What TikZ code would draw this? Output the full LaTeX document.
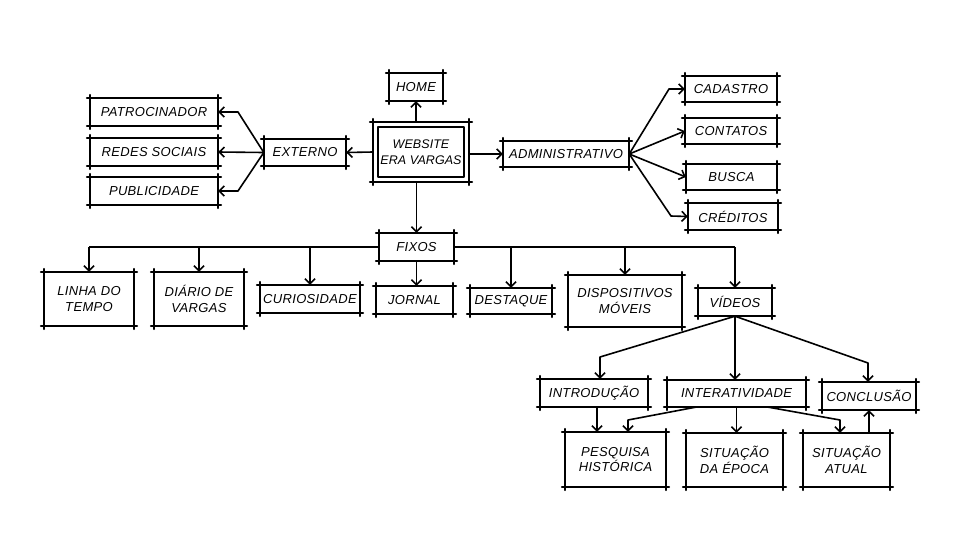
\documentclass[tikz,border=0pt]{standalone}
\usepackage{fontspec}
\setmainfont{Liberation Sans}
\newfontfamily\lettering[LetterSpace=2.5]{Liberation Sans}
\newfontfamily\letteringtight[LetterSpace=0.5]{Liberation Sans}
\usetikzlibrary{arrows.meta,calc}
\tikzset{
  box/.style={inner sep=0pt, font=\lettering\itshape\fontsize{13}{15.5}\selectfont, align=center},
  edge/.style={line width=1.8pt, line cap=round},
  ln/.style={line width=1.6pt, line join=round},
  conn/.style={ln, -{Straight Barb[length=5pt,width=10pt,line width=1.6pt]}},
}
\newcommand\skbox[1]{%
  \draw[edge] ([xshift=-3pt]#1.north west) -- ([xshift=3pt]#1.north east);
  \draw[edge] ([xshift=-3pt]#1.south west) -- ([xshift=3pt]#1.south east);
  \draw[edge] ([yshift=3pt]#1.north west) -- ([yshift=-3pt]#1.south west);
  \draw[edge] ([yshift=3pt]#1.north east) -- ([yshift=-3pt]#1.south east);
}
\begin{document}
\begin{tikzpicture}[x=1pt,y=-1pt]
\useasboundingbox[fill=white] (0,0) rectangle (976,555);
% nodes
\node[box, minimum width=54pt, minimum height=28pt] (home) at (416,87) {HOME};
\node[box, minimum width=96pt, minimum height=60pt, font=\letteringtight\itshape\fontsize{12.5}{15.5}\selectfont] (web) at (421,152) {WEBSITE\\ERA VARGAS};
\node[box, minimum width=82pt, minimum height=27pt] (ext) at (305,152.5) {EXTERNO};
\node[box, minimum width=128pt, minimum height=28pt] (pat) at (154,112) {PATROCINADOR};
\node[box, minimum width=128pt, minimum height=28pt] (red) at (154,152) {REDES SOCIAIS};
\node[box, minimum width=128pt, minimum height=28pt] (pub) at (154,191) {PUBLICIDADE};
\node[box, minimum width=126pt, minimum height=26pt] (adm) at (566,154) {ADMINISTRATIVO};
\node[box, minimum width=92pt, minimum height=26pt] (cad) at (731,89) {CADASTRO};
\node[box, minimum width=92pt, minimum height=26pt] (con) at (731,131) {CONTATOS};
\node[box, minimum width=91pt, minimum height=26pt] (bus) at (731.5,177) {BUSCA};
\node[box, minimum width=90pt, minimum height=27pt] (cre) at (733,216.5) {CRÉDITOS};
\node[box, minimum width=75pt, minimum height=28pt] (fix) at (416.5,247) {FIXOS};
\node[box, minimum width=90pt, minimum height=54pt] (lin) at (89,299) {LINHA DO\\TEMPO};
\node[box, minimum width=90pt, minimum height=54pt] (dia) at (199,299) {DIÁRIO DE\\VARGAS};
\node[box, minimum width=100pt, minimum height=28pt] (cur) at (310,299) {CURIOSIDADE};
\node[box, minimum width=77pt, minimum height=28pt] (jor) at (414.5,300) {JORNAL};
\node[box, minimum width=82pt, minimum height=26pt] (des) at (511,301) {DESTAQUE};
\node[box, minimum width=114pt, minimum height=52pt] (dis) at (625,301) {DISPOSITIVOS\\MÓVEIS};
\node[box, minimum width=74pt, minimum height=28pt] (vid) at (735,302) {VÍDEOS};
\node[box, minimum width=108pt, minimum height=28pt] (intro) at (594,393) {INTRODUÇÃO};
\node[box, minimum width=139pt, minimum height=27pt] (int) at (736.5,393.5) {INTERATIVIDADE};
\node[box, minimum width=94pt, minimum height=28pt] (conc) at (869,396) {CONCLUSÃO};
\node[box, minimum width=101pt, minimum height=55pt] (pes) at (615.5,459.5) {PESQUISA\\HISTÓRICA};
\node[box, minimum width=97pt, minimum height=54pt] (sde) at (734.5,460) {SITUAÇÃO\\DA ÉPOCA};
\node[box, minimum width=87pt, minimum height=54pt] (sat) at (846.5,460) {SITUAÇÃO\\ATUAL};
% sketchy box outlines
\foreach \n in {home,web,ext,pat,red,pub,adm,cad,con,bus,cre,fix,lin,dia,cur,jor,des,dis,vid,intro,int,conc,pes,sde,sat} {\skbox{\n}}
\draw[ln] ([shift={(5pt,-5pt)}]web.north west) rectangle ([shift={(-5pt,5pt)}]web.south east);
% coordinates for bends
\coordinate (e1) at (238,112);
\coordinate (e2) at (238,191);
\coordinate (a1) at (669,89);
\coordinate (a2) at (671,216);
\coordinate (v1) at (600,357);
\coordinate (v3) at (868,363);
\coordinate (i0) at ($(intro.south)+(3,0)$);
\coordinate (i1s) at ($(int.south)+(-41,0)$);
\coordinate (i1) at (628,420);
\coordinate (i3s) at ($(int.south)+(32,0)$);
\coordinate (i3) at (840,420);
% connectors from website
\draw[conn] (home.south |- web.north) -- (home.south);
\draw[conn] (web.west) -- (ext.east);
\draw[conn] (web.east |- adm.west) -- (adm.west);
\draw[conn] (fix.north |- web.south) -- (fix.north);
% externo
\draw[conn] (ext.west) -- (e1) -- (pat.east);
\draw[conn] (ext.west) -- (red.east);
\draw[conn] (ext.west) -- (e2) -- (pub.east);
% administrativo
\draw[conn] (adm.east) -- (a1) -- (cad.west);
\draw[conn] (adm.east) -- (con.west);
\draw[conn] (adm.east) -- (bus.west);
\draw[conn] (adm.east) -- (a2) -- (cre.west);
% fixos bus
\draw[ln] (fix.west) -- (lin.north |- fix.west);
\draw[ln] (fix.east) -- (vid.north |- fix.east);
\draw[conn] (lin.north |- fix.west) -- (lin.north);
\draw[conn] (dia.north |- fix.west) -- (dia.north);
\draw[conn] (cur.north |- fix.west) -- (cur.north);
\draw[conn] (fix.south) -- (fix.south |- jor.north);
\draw[conn] (des.north |- fix.east) -- (des.north);
\draw[conn] (dis.north |- fix.east) -- (dis.north);
\draw[conn] (vid.north |- fix.east) -- (vid.north);
% videos
\draw[conn] (vid.south) -- (v1) -- (v1 |- intro.north);
\draw[conn] (vid.south) -- (vid.south |- int.north);
\draw[conn] (vid.south) -- (v3) -- (v3 |- conc.north);
% second level
\draw[conn] (i0) -- (i0 |- pes.north);
\draw[conn] (i1s) -- (i1) -- (i1 |- pes.north);
\draw[conn] (int.south) -- (int.south |- sde.north);
\draw[conn] (i3s) -- (i3) -- (i3 |- sat.north);
\draw[conn] (conc.south |- sat.north) -- (conc.south);
\end{tikzpicture}
\end{document}
